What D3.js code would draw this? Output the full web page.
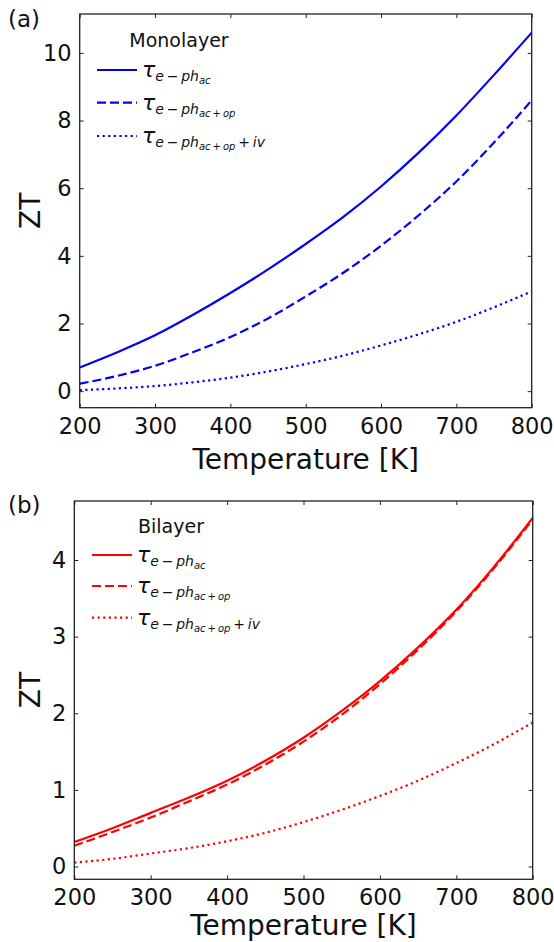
<!DOCTYPE html>
<html>
<head>
<meta charset="utf-8">
<script src="https://cdn.jsdelivr.net/npm/d3@7"></script>
<style>
  body { margin: 0; background: #fff; }
  svg { display: block; font-family: "DejaVu Sans", sans-serif; }
</style>
</head>
<body>
<div id="chart"></div>
<script>
// Data (ZT vs temperature)
const temps = [200, 250, 300, 350, 400, 450, 500, 550, 600, 650, 700, 750, 800];

const monoAc     = [0.70, 1.15, 1.65, 2.25, 2.90, 3.60, 4.35, 5.15, 6.05, 7.05, 8.15, 9.35, 10.6];
const monoAcOp   = [0.22, 0.45, 0.75, 1.15, 1.60, 2.15, 2.80, 3.50, 4.30, 5.20, 6.20, 7.35, 8.60];
const monoAcOpIv = [0.03, 0.08, 0.15, 0.26, 0.40, 0.58, 0.80, 1.05, 1.35, 1.68, 2.05, 2.48, 2.95];

const biAc       = [0.32, 0.50, 0.70, 0.90, 1.12, 1.38, 1.68, 2.03, 2.42, 2.86, 3.35, 3.92, 4.55];
const biAcOp     = [0.27, 0.45, 0.64, 0.85, 1.07, 1.33, 1.63, 1.98, 2.38, 2.83, 3.33, 3.90, 4.53];
const biAcOpIv   = [0.05, 0.10, 0.17, 0.24, 0.33, 0.44, 0.58, 0.74, 0.92, 1.12, 1.35, 1.60, 1.88];

const xTicks = [200, 300, 400, 500, 600, 700, 800];
const monoYTicks = [0, 2, 4, 6, 8, 10];
const biYTicks = [0, 1, 2, 3, 4];

const width = 554, height = 942;

const svg = d3.select("#chart").append("svg")
  .attr("width", width)
  .attr("height", height);

const styles = [
  { dash: null, sub: "ac", tail: null },
  { dash: "9,4", sub: "ac\u2009+\u2009op", tail: null },
  { dash: "2.2,3.4", sub: "ac\u2009+\u2009op", tail: "\u2009+\u2009iv" }
];

function drawPanel(p) {
  const x = d3.scaleLinear().domain([200, 800]).range([p.left, p.right]);
  const y = d3.scaleLinear().domain(p.yDomain).range([p.bottom, p.top]);

  // Curves
  const line = d3.line()
    .x((d, i) => x(temps[i]))
    .y(d => y(d))
    .curve(d3.curveMonotoneX);

  p.series.forEach((s, i) => {
    svg.append("path")
      .datum(s)
      .attr("d", line)
      .attr("fill", "none")
      .attr("stroke", p.color)
      .attr("stroke-width", 2.2)
      .attr("stroke-dasharray", styles[i].dash);
  });

  // Axes: ticks inward on all four sides
  const tickLen = 4;
  svg.append("g")
    .attr("transform", `translate(0,${p.bottom})`)
    .call(d3.axisBottom(x).tickValues(xTicks).tickSizeInner(-tickLen).tickSizeOuter(0).tickPadding(10))
    .call(g => g.select(".domain").remove())
    .call(g => g.selectAll("text").attr("font-size", 22.5).attr("fill", "#111").attr("font-family", "DejaVu Sans"));

  svg.append("g")
    .attr("transform", `translate(0,${p.top})`)
    .call(d3.axisTop(x).tickValues(xTicks).tickSizeInner(-tickLen).tickSizeOuter(0).tickFormat(""))
    .call(g => g.select(".domain").remove());

  svg.append("g")
    .attr("transform", `translate(${p.left},0)`)
    .call(d3.axisLeft(y).tickValues(p.yTicks).tickFormat(d3.format("d")).tickSizeInner(-tickLen).tickSizeOuter(0).tickPadding(8))
    .call(g => g.select(".domain").remove())
    .call(g => g.selectAll("text").attr("font-size", 22.5).attr("fill", "#111").attr("font-family", "DejaVu Sans"));

  svg.append("g")
    .attr("transform", `translate(${p.right},0)`)
    .call(d3.axisRight(y).tickValues(p.yTicks).tickSizeInner(-tickLen).tickSizeOuter(0).tickFormat(""))
    .call(g => g.select(".domain").remove());

  svg.selectAll(".tick line").attr("stroke", "#222").attr("stroke-width", 1);

  // Frame
  svg.append("rect")
    .attr("x", p.left).attr("y", p.top)
    .attr("width", p.right - p.left).attr("height", p.bottom - p.top)
    .attr("fill", "none")
    .attr("stroke", "#222")
    .attr("stroke-width", 1.3);

  // Panel letter
  svg.append("text")
    .attr("x", 8).attr("y", p.letterY)
    .attr("font-size", 23)
    .attr("fill", "#111")
    .text(p.letter);

  // Axis labels
  svg.append("text")
    .attr("x", (p.left + p.right) / 2)
    .attr("y", p.xLabelY)
    .attr("text-anchor", "middle")
    .attr("font-size", 28)
    .attr("fill", "#111")
    .text("Temperature [K]");

  svg.append("text")
    .attr("transform", `translate(40,${(p.top + p.bottom) / 2}) rotate(-90)`)
    .attr("text-anchor", "middle")
    .attr("font-size", 28)
    .attr("fill", "#111")
    .text("ZT");

  // Legend
  svg.append("text")
    .attr("x", p.legend.titleX)
    .attr("y", p.legend.titleY)
    .attr("text-anchor", "middle")
    .attr("font-size", 19)
    .attr("fill", "#111")
    .text(p.legend.title);

  p.legend.rows.forEach((ry, i) => {
    svg.append("line")
      .attr("x1", p.legend.x1).attr("x2", p.legend.x1 + 40)
      .attr("y1", ry).attr("y2", ry)
      .attr("stroke", p.color)
      .attr("stroke-width", 2.2)
      .attr("stroke-dasharray", styles[i].dash);

    const t = svg.append("text")
      .attr("x", p.legend.x1 + 45)
      .attr("y", ry + 7)
      .attr("fill", "#111")
      .attr("font-style", "italic");
    t.append("tspan").attr("font-size", 22).text("\u03c4");
    t.append("tspan").attr("font-size", 14).attr("dy", 4).text("e\u2009\u2212\u2009ph");
    t.append("tspan").attr("font-size", 10).attr("dy", 3).text(styles[i].sub);
    if (styles[i].tail) {
      t.append("tspan").attr("font-size", 14).attr("dy", -3).text(styles[i].tail);
    }
  });
}

drawPanel({
  left: 79.7, right: 531.7, top: 14, bottom: 407.7,
  yDomain: [-0.49, 11.15],
  yTicks: monoYTicks,
  series: [monoAc, monoAcOp, monoAcOpIv],
  color: "#0000ff",
  letter: "(a)", letterY: 27,
  xLabelY: 469,
  legend: { title: "Monolayer", titleX: 179, titleY: 47, x1: 97, rows: [70, 102.7, 136] }
});

drawPanel({
  left: 74.3, right: 532.7, top: 501, bottom: 879.3,
  yDomain: [-0.167, 4.77],
  yTicks: biYTicks,
  series: [biAc, biAcOp, biAcOpIv],
  color: "#ff0000",
  letter: "(b)", letterY: 513,
  xLabelY: 935,
  legend: { title: "Bilayer", titleX: 171, titleY: 533, x1: 92, rows: [555, 586, 617.7] }
});
</script>
</body>
</html>
